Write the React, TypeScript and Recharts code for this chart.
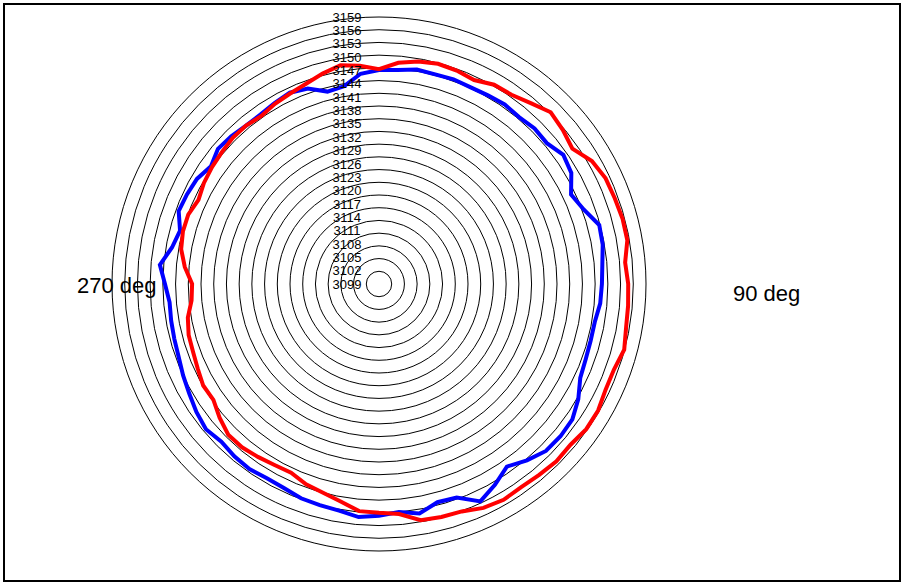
import { RadarChart, Radar, PolarGrid, PolarAngleAxis, PolarRadiusAxis } from "recharts";

// angle in degrees, clockwise from the top
const angles = [
  0, 5, 10, 15, 20, 25, 30, 35, 40, 45, 50, 55, 60, 65, 70, 75, 80, 85,
  90, 95, 100, 105, 110, 115, 120, 125, 130, 135, 140, 145, 150, 155, 160, 165, 170, 175,
  180, 185, 190, 195, 200, 205, 210, 215, 220, 225, 230, 235, 240, 245, 250, 255, 260, 265,
  270, 275, 280, 285, 290, 295, 300, 305, 310, 315, 320, 325, 330, 335, 340, 345, 350, 355,
];

const blueValues = [
  3146.5, 3146.7, 3147.4, 3147.2, 3147.4, 3147.2, 3147.4, 3147.7, 3147.4, 3147.9, 3147.7, 3149.1,
  3148.4, 3146.0, 3147.4, 3149.8, 3149.6, 3148.9, 3148.6, 3148.4, 3147.7, 3147.7, 3147.9, 3148.4,
  3150.3, 3151.7, 3151.9, 3151.7, 3150.3, 3148.6, 3150.7, 3152.6, 3149.6, 3149.3, 3151.0, 3150.0,
  3150.7, 3151.2, 3150.3, 3150.0, 3149.8, 3149.1, 3148.9, 3149.3, 3149.1, 3148.6, 3149.3, 3148.6,
  3147.7, 3147.0, 3146.3, 3146.0, 3145.8, 3145.6, 3146.5, 3147.9, 3145.6, 3144.6, 3146.3, 3146.0,
  3145.6, 3144.4, 3145.6, 3145.3, 3144.8, 3144.8, 3145.3, 3145.8, 3145.1, 3143.0, 3143.4, 3145.8,
];

const redValues = [
  3146.7, 3148.4, 3149.3, 3149.8, 3149.6, 3149.1, 3150.3, 3150.5, 3151.7, 3153.3, 3152.6, 3151.7,
  3154.0, 3155.0, 3155.2, 3155.5, 3155.5, 3154.3, 3154.8, 3155.0, 3155.2, 3155.9, 3155.0, 3155.0,
  3155.7, 3155.7, 3155.0, 3155.2, 3154.8, 3154.5, 3154.8, 3154.3, 3153.1, 3152.9, 3152.6, 3150.5,
  3150.0, 3149.8, 3148.1, 3147.0, 3146.3, 3145.1, 3145.3, 3145.8, 3146.3, 3146.3, 3145.1, 3143.7,
  3143.9, 3143.2, 3142.7, 3142.5, 3141.8, 3140.4, 3140.1, 3142.0, 3143.4, 3143.9, 3143.9, 3143.0,
  3143.7, 3144.1, 3144.4, 3144.8, 3144.8, 3144.4, 3145.1, 3145.6, 3146.3, 3147.4, 3148.4, 3147.7,
];

const radiusTicks = [
  3099, 3102, 3105, 3108, 3111, 3114, 3117, 3120, 3123, 3126, 3129,
  3132, 3135, 3138, 3141, 3144, 3147, 3150, 3153, 3156, 3159,
];

const angleLabels: Record<number, string> = { 90: "90 deg", 270: "270 deg" };

const data = angles.map((angle, i) => ({
  angle,
  blue: blueValues[i],
  red: redValues[i],
}));

const AngleTick = (props: any) => {
  const { x, y, payload } = props;
  const label = angleLabels[payload.value];
  if (!label) return <g />;
  const right = payload.value === 90;
  return (
    <text
      x={right ? x + 79 : x - 27}
      y={right ? y + 17 : y + 9}
      fontSize={22}
      fontFamily="'Liberation Sans', Arial, sans-serif"
      fill="#000"
    >
      {label}
    </text>
  );
};

const RadiusTick = (props: any) => {
  const { x, y, payload } = props;
  return (
    <text
      x={x - 32}
      y={y}
      dy="0.36em"
      textAnchor="middle"
      fontSize={13}
      fontFamily="'Liberation Sans', Arial, sans-serif"
      fill="#000"
    >
      {payload.value}
    </text>
  );
};

export default function App() {
  return (
    <div style={{ position: "absolute", left: 0, top: 0, width: 904, height: 585, background: "#fff" }}>
      <div
        style={{
          position: "absolute",
          left: 3,
          top: 3,
          width: 898,
          height: 579,
          border: "2px solid #000",
          boxSizing: "border-box",
        }}
      />
      <RadarChart
        width={904}
        height={585}
        data={data}
        cx={379}
        cy={284}
        innerRadius={0}
        outerRadius={267}
        startAngle={90}
        endAngle={-270}
        margin={{ top: 0, right: 0, bottom: 0, left: 0 }}
        style={{ position: "absolute", left: 0, top: 0 }}
      >
        <PolarGrid gridType="circle" radialLines={false} stroke="#000" strokeWidth={1} />
        <PolarAngleAxis dataKey="angle" axisLine={false} tickLine={false} tick={AngleTick} />
        <PolarRadiusAxis
          type="number"
          domain={[3096, 3159]}
          ticks={radiusTicks}
          allowDataOverflow
          axisLine={false}
          tick={false}
        />
        <PolarRadiusAxis
          radiusAxisId="lbl"
          type="number"
          domain={[3099, 3159]}
          ticks={radiusTicks}
          angle={90}
          allowDataOverflow
          axisLine={false}
          tickLine={false}
          tick={RadiusTick}
        />
        <Radar dataKey="blue" stroke="#0000ff" strokeWidth={4} fill="none" fillOpacity={0} dot={false} isAnimationActive={false} />
        <Radar dataKey="red" stroke="#ff0000" strokeWidth={4} fill="none" fillOpacity={0} dot={false} isAnimationActive={false} />
      </RadarChart>
    </div>
  );
}
